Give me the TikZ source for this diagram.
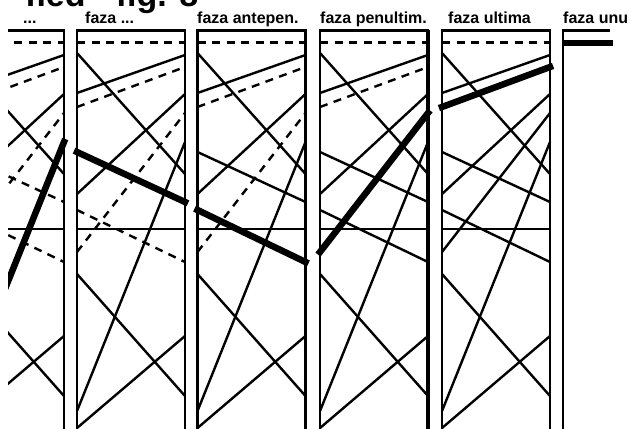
\documentclass[tikz,border=0pt]{standalone}
\usepackage{fontspec}
\setmainfont{Liberation Sans}
\usetikzlibrary{positioning}

% one phase box, drawn in its own coordinates (0..108 wide)
\newcommand\fazabox{%
  \draw[edgeline] (0,432) |- (108,30.5) -- (108,432);
  \draw[dashline] (0,42.5) -- (108,42.5);
  \draw[midline] (0,229) -- (108,229);
  \draw[la] (0,53)  -- (108,174);
  \draw[lb] (0,93)  -- (108,55);
  \draw[lc] (0,107) -- (108,67);
  \draw[ld] (0,152) -- (108,202);
  \draw[le] (0,194) -- (108,94);
  \draw[lf] (0,210) -- (108,262);
  \draw[lg] (0,252) -- (108,113);
  \draw[lh] (0,274) -- (108,396);
  \draw[li] (0,411) -- (108,142);
  \draw[lj] (0,428) -- (108,336);
}

\begin{document}
\begin{tikzpicture}[
  x=1pt, y=-1pt,
  edgeline/.style ={line width=2.3pt},
  midline/.style  ={line width=1.7pt},
  plainline/.style={line width=2.4pt},
  dashline/.style ={line width=2.4pt, dash pattern=on 8pt off 6.5pt},
  thickline/.style={line width=6.5pt, line cap=rect},
  fazalabel/.style={anchor=base west, inner sep=0pt, font=\bfseries\fontsize{16}{16}\selectfont},
  la/.style=plainline, lb/.style=plainline, lc/.style=plainline, ld/.style=plainline,
  le/.style=plainline, lf/.style=plainline, lg/.style=plainline, lh/.style=plainline,
  li/.style=plainline, lj/.style=plainline
]
\useasboundingbox (0,0) rectangle (631,428);
\clip (8,0) rectangle (631,428);

\node[anchor=base west, inner sep=0pt, font=\bfseries\fontsize{34}{34}\selectfont] (title) at (25,7) {fied - fig. 8};

\node[fazalabel] (l1) at (23,24)  {...};
\node[fazalabel] (l2) at (85,24)  {faza ...};
\node[fazalabel] (l3) at (197,24) {faza antepen.};
\node[fazalabel] (l4) at (320,24) {faza penultim.};
\node[fazalabel] (l5) at (448,24) {faza ultima};
\node[fazalabel] (l6) at (563,24) {faza unu};

\begin{scope}[xshift=-44pt, lc/.style=dashline, ld/.style=dashline, lf/.style=dashline,
    lg/.style=dashline, li/.style=thickline]
  \fazabox
\end{scope}
\begin{scope}[xshift=77pt, lc/.style=dashline, ld/.style=thickline, lf/.style=dashline,
    lg/.style=dashline]
  \fazabox
\end{scope}
\begin{scope}[xshift=197.5pt, lc/.style=dashline, lf/.style=thickline, lg/.style=dashline]
  \fazabox
\end{scope}
\begin{scope}[xshift=320pt, lc/.style=dashline, lg/.style=thickline]
  \fazabox
  \draw[line width=3.8pt] (108,30.5) -- (108,432);
\end{scope}
\begin{scope}[xshift=442pt, lc/.style=thickline]
  \fazabox
\end{scope}

% faza unu: only the top element is left
\draw[edgeline] (563,432) |- (610,30.5);
\draw[line width=5.5pt] (563,43) -- (613,43);

\end{tikzpicture}
\end{document}
